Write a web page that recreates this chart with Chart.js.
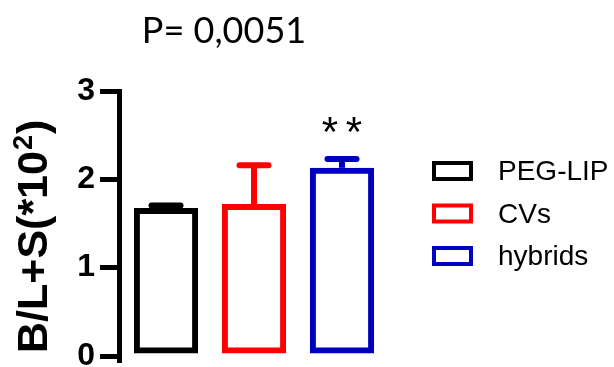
<!DOCTYPE html>
<html>
<head>
<meta charset="utf-8">
<script src="https://cdn.jsdelivr.net/npm/chart.js@4/dist/chart.umd.min.js"></script>
<style>
  body { margin: 0; background: #fff; }
  canvas { display: block; }
</style>
</head>
<body>
<canvas id="chart" width="614" height="367"></canvas>
<script>
// data
var groups = ['PEG-LIP', 'CVs', 'hybrids'];
var means = [1.675, 1.72, 2.13];
var sem = [0.03, 0.44, 0.10];
var stars = ['', '', '**'];
var colors = ['#000000', '#ff0000', '#0000c0'];
var yTicks = [0, 1, 2, 3];
var pText = 'P= 0,0051';

var extras = {
    id: 'extras',
    afterDatasetsDraw: function (chart) {
        var ctx = chart.ctx;
        var area = chart.chartArea;
        var yScale = chart.scales.y;
        var meta = chart.getDatasetMeta(0);

        // y axis line, runs a little below zero like the original
        ctx.save();
        ctx.strokeStyle = '#000';
        ctx.lineWidth = 5;
        ctx.beginPath();
        ctx.moveTo(area.left - 2.5, area.top - 2);
        ctx.lineTo(area.left - 2.5, area.bottom + 7);
        ctx.stroke();

        // error bars (upper only) and significance stars
        meta.data.forEach(function (bar, i) {
            var yTop = yScale.getPixelForValue(means[i] + sem[i]);
            ctx.strokeStyle = colors[i];
            ctx.lineWidth = 6;
            ctx.lineCap = 'butt';
            ctx.beginPath();
            ctx.moveTo(bar.x, bar.y);
            ctx.lineTo(bar.x, yTop);
            ctx.stroke();
            ctx.lineCap = 'round';
            ctx.beginPath();
            ctx.moveTo(bar.x - 14.5, yTop);
            ctx.lineTo(bar.x + 14.5, yTop);
            ctx.stroke();

            if (stars[i]) {
                ctx.fillStyle = '#000';
                ctx.font = '42px "Liberation Sans", Arial, sans-serif';
                ctx.textAlign = 'center';
                ctx.textBaseline = 'alphabetic';
                var n = stars[i].length;
                for (var k = 0; k < n; k++) {
                    var dx = (k - (n - 1) / 2) * 24;
                    ctx.fillText('*', bar.x + dx, yTop - 13);
                }
            }
        });
        ctx.restore();
    },
    afterDraw: function (chart) {
        var ctx = chart.ctx;
        ctx.save();
        ctx.fillStyle = '#000';

        // title
        ctx.font = '36px Lato, "Liberation Sans", sans-serif';
        ctx.textAlign = 'center';
        ctx.textBaseline = 'alphabetic';
        ctx.fillText(pText, 224, 43);

        // rotated y axis title with superscript
        ctx.save();
        ctx.translate(47, 353);
        ctx.rotate(-Math.PI / 2);
        ctx.textAlign = 'left';
        ctx.font = 'bold 43px "Liberation Sans", Arial, sans-serif';
        var main = 'B/L+S(*10';
        ctx.fillText(main, 0, 0);
        var w = ctx.measureText(main).width;
        ctx.font = 'bold 27px "Liberation Sans", Arial, sans-serif';
        ctx.fillText('2', w + 1, -15);
        var w2 = ctx.measureText('2').width;
        ctx.font = 'bold 43px "Liberation Sans", Arial, sans-serif';
        ctx.fillText(')', w + w2 + 2, 0);
        ctx.restore();

        // legend
        ctx.font = '28px "Liberation Sans", Arial, sans-serif';
        ctx.textAlign = 'left';
        ctx.lineWidth = 4;
        ctx.lineCap = 'butt';
        groups.forEach(function (name, i) {
            var top = 161 + i * 42.5;
            ctx.strokeStyle = colors[i];
            ctx.strokeRect(434, top + 2, 37, 16);
            ctx.fillStyle = '#000';
            ctx.fillText(name, 498, top + 19);
        });
        ctx.restore();
    }
};

new Chart(document.getElementById('chart'), {
    type: 'bar',
    data: {
        labels: groups,
        datasets: [{
            data: means,
            backgroundColor: 'rgba(255,255,255,0)',
            borderColor: colors,
            borderWidth: 6,
            borderSkipped: false,
            barPercentage: 0.73,
            categoryPercentage: 1
        }]
    },
    options: {
        responsive: false,
        devicePixelRatio: 1,
        animation: false,
        layout: { padding: { top: 91, bottom: 11, left: 0, right: 228 } },
        plugins: {
            legend: { display: false },
            tooltip: { enabled: false }
        },
        scales: {
            x: { display: false },
            y: {
                min: 0,
                max: 3,
                afterFit: function (scale) {
                    scale.width = 122;
                    scale.paddingTop = 0;
                    scale.paddingBottom = 0;
                },
                afterBuildTicks: function (scale) {
                    scale.ticks = yTicks.map(function (v) { return { value: v }; });
                },
                border: { display: false },
                grid: {
                    drawOnChartArea: false,
                    drawTicks: true,
                    tickLength: 22,
                    lineWidth: 5,
                    color: '#000'
                },
                ticks: {
                    padding: 5,
                    color: '#000',
                    font: { family: '"Liberation Sans", Arial, sans-serif', size: 32, weight: 'bold' }
                }
            }
        }
    },
    plugins: [extras]
});
</script>
</body>
</html>
